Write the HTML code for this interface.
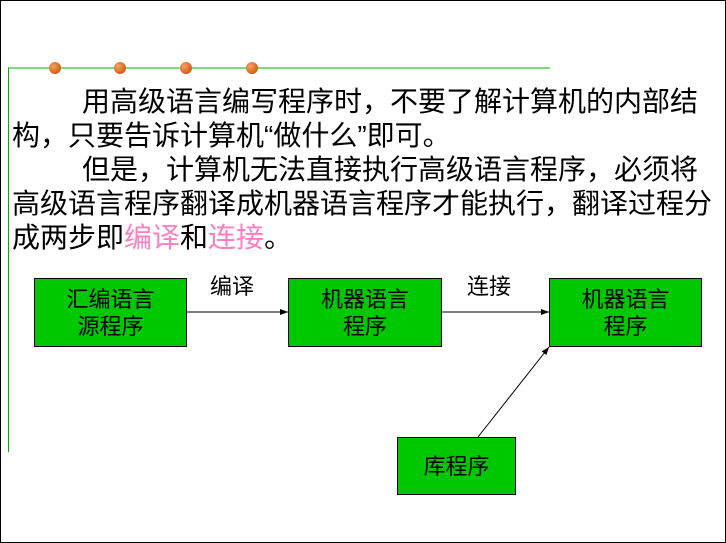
<!DOCTYPE html>
<html><head><meta charset="utf-8"><style>
body{margin:0;width:726px;height:543px;overflow:hidden;background:#fff;position:relative;font-family:"Liberation Sans","Noto Sans CJK SC",sans-serif}
.frame{position:absolute;left:0;top:0;width:724px;height:541px;border:1px solid #000}
.t{position:absolute;font-size:28px;line-height:28px;white-space:nowrap;color:#000}
.p{color:#ff7fc0}
.box{position:absolute;background:#00c800;border:1px solid #000;box-sizing:border-box;font-size:22px;line-height:27px;text-align:center;display:flex;align-items:center;justify-content:center}
.lbl{position:absolute;font-size:22px;line-height:22px}
</style></head><body>
<div class="frame"></div>
<svg width="726" height="543" style="position:absolute;left:0;top:0">
<defs><radialGradient id="g" cx="0.35" cy="0.35" r="0.7"><stop offset="0" stop-color="#f8a060"/><stop offset="1" stop-color="#d05a10"/></radialGradient>
<marker id="a" markerWidth="8" markerHeight="8" refX="8" refY="4" orient="auto" markerUnits="userSpaceOnUse"><path d="M0,1 L8,4 L0,7z" fill="#000"/></marker></defs>
<line x1="8" y1="68" x2="550" y2="68" stroke="#00b000" stroke-width="1"/>
<line x1="8.5" y1="68" x2="8.5" y2="452" stroke="#00b000" stroke-width="1"/>
<circle cx="55" cy="68" r="6" fill="url(#g)"/>
<circle cx="120" cy="68" r="6" fill="url(#g)"/>
<circle cx="186" cy="68" r="6" fill="url(#g)"/>
<circle cx="252" cy="68" r="6" fill="url(#g)"/>
<line x1="186" y1="312" x2="288" y2="312" stroke="#000" marker-end="url(#a)"/>
<line x1="441" y1="312" x2="549" y2="312" stroke="#000" marker-end="url(#a)"/>
<line x1="478" y1="437" x2="549" y2="347" stroke="#000" marker-end="url(#a)"/>
</svg>
<div class="t" style="left:82px;top:88px">用高级语言编写程序时，不要了解计算机的内部结</div>
<div class="t" style="left:12px;top:122px">构，只要告诉计算机“做什么”即可。</div>
<div class="t" style="left:82px;top:156px">但是，计算机无法直接执行高级语言程序，必须将</div>
<div class="t" style="left:12px;top:190px">高级语言程序翻译成机器语言程序才能执行，翻译过程分</div>
<div class="t" style="left:12px;top:224px">成两步即<span class="p">编译</span>和<span class="p">连接</span>。</div>
<div class="box" style="left:34px;top:278px;width:153px;height:69px">汇编语言<br>源程序</div>
<div class="box" style="left:288px;top:278px;width:154px;height:69px">机器语言<br>程序</div>
<div class="box" style="left:549px;top:278px;width:153px;height:69px">机器语言<br>程序</div>
<div class="box" style="left:397px;top:437px;width:119px;height:58px">库程序</div>
<div class="lbl" style="left:210px;top:276px">编译</div>
<div class="lbl" style="left:467px;top:276px">连接</div>
</body></html>
